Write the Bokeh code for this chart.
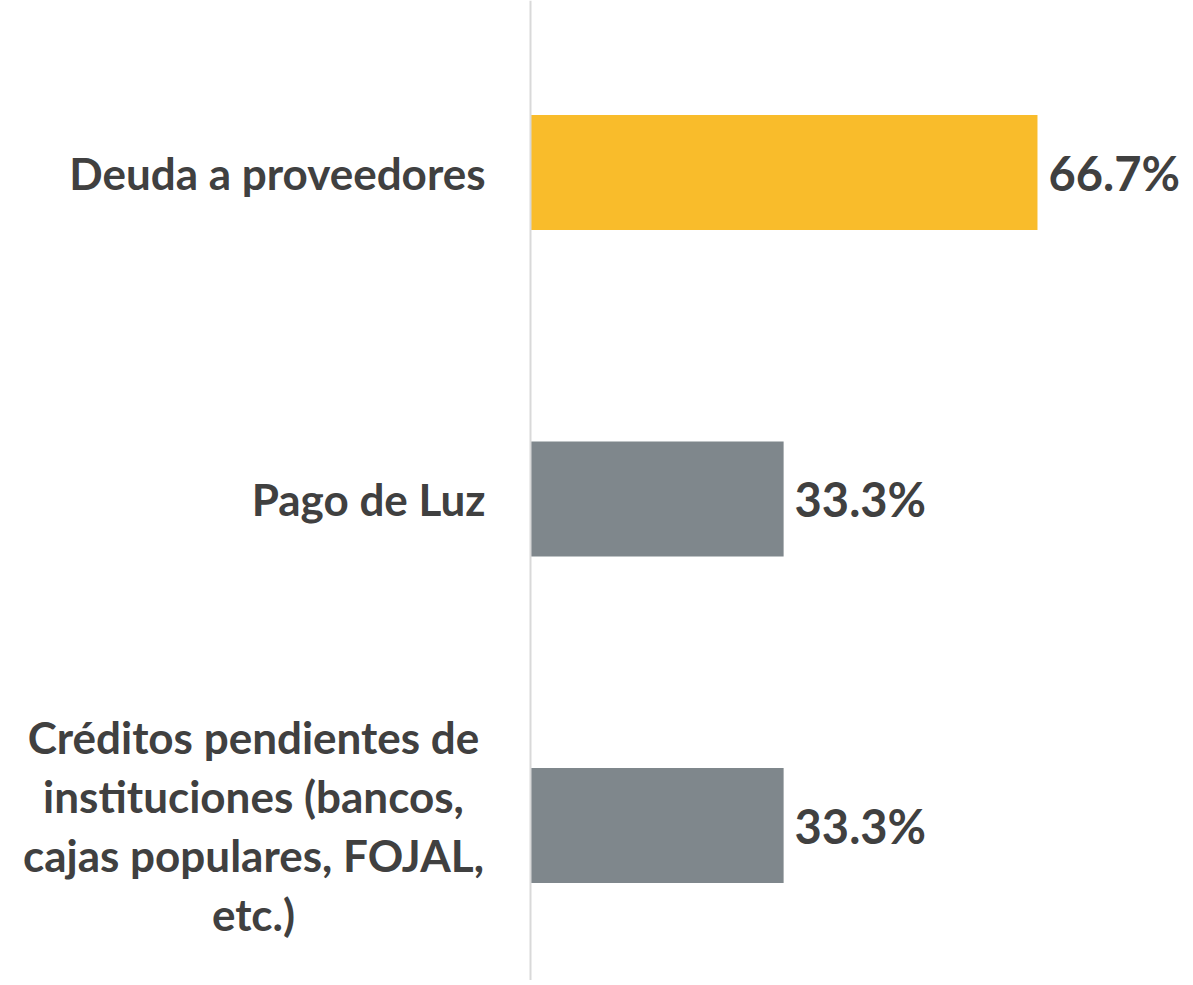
from bokeh.plotting import figure
from bokeh.models import Range1d, Span, ColumnDataSource
from bokeh.core.properties import value
from bokeh.embed import file_html
from bokeh.resources import INLINE

categories = [
    "Deuda a proveedores",
    "Pago de Luz",
    "Créditos pendientes de\ninstituciones (bancos,\ncajas populares, FOJAL,\netc.)",
]
values = [66.7, 33.3, 33.3]
colors = ["#F9BC2B", "#7F878C", "#7F878C"]

ypos = list(range(len(categories)))[::-1]
value_labels = [f"{v:.1f}%" for v in values]

src = ColumnDataSource(dict(cat=categories, y=ypos, v=values, c=colors, lab=value_labels))

single = [i for i, c in enumerate(categories) if "\n" not in c]
multi = [i for i, c in enumerate(categories) if "\n" in c]
src_single = ColumnDataSource(dict(cat=[categories[i] for i in single], y=[ypos[i] for i in single], x=[0] * len(single)))
src_multi = ColumnDataSource(dict(cat=[categories[i] for i in multi], y=[ypos[i] for i in multi], x=[0] * len(multi)))

p = figure(width=1189, height=980, output_backend="svg", toolbar_location=None,
           x_range=Range1d(-69.73, 86.70), y_range=Range1d(-0.4747, 2.5268),
           x_axis_location=None, y_axis_location=None, min_border=0)
p.outline_line_color = None
p.grid.visible = False
p.background_fill_color = "white"
p.border_fill_color = "white"

p.add_layout(Span(location=0, dimension="height", line_color="#D9D9D9", line_width=2))

p.hbar(y="y", left=0, right="v", height=0.352, fill_color="c", line_color=None, source=src)

FONT = value("Lato")
p.text(x="v", y="y", text="lab", source=src, x_offset=11, text_align="left",
       text_baseline="middle", text_font=FONT, text_font_style="bold",
       text_font_size="47px", text_color="#404040")

p.text(x="x", y="y", text="cat", source=src_single, x_offset=-45, text_align="right",
       text_baseline="middle", text_font=FONT, text_font_style="bold",
       text_font_size="44px", text_color="#404040")

p.text(x="x", y="y", text="cat", source=src_multi, x_offset=-277, text_align="center",
       text_baseline="middle", text_font=FONT, text_font_style="bold",
       text_font_size="44px", text_color="#404040", text_line_height=1.14)

open("out.html", "w").write(file_html(p, INLINE))
